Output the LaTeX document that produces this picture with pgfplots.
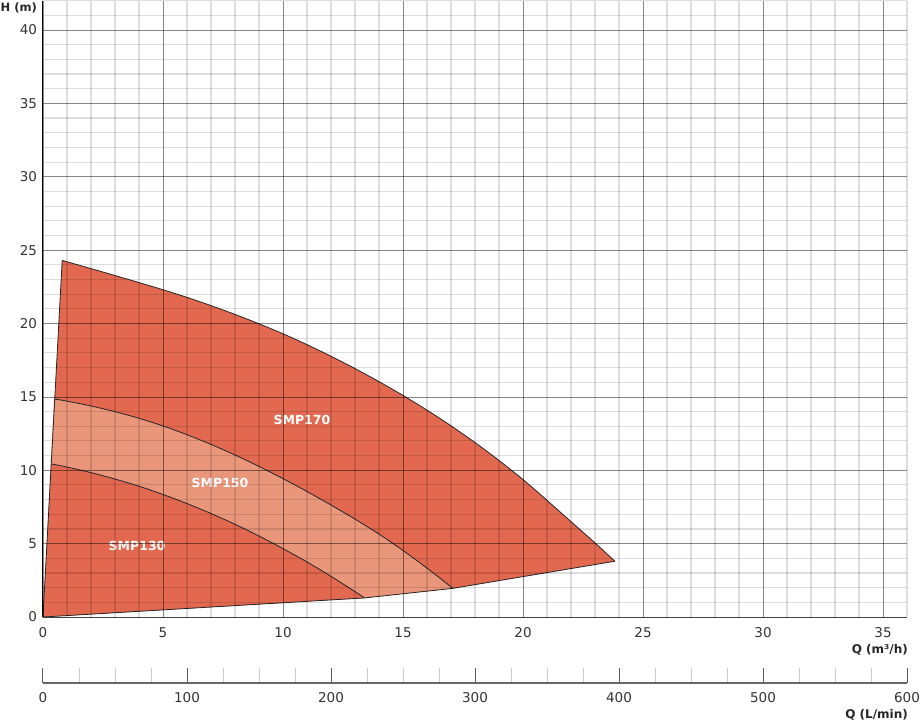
\documentclass[border=0pt]{standalone}
\usepackage{fontspec}
\setmainfont{DejaVu Sans}
\usepackage{pgfplots}
\pgfplotsset{compat=1.18}
\definecolor{darkfill}{HTML}{E2684F}
\definecolor{lightfill}{HTML}{EA967B}
\begin{document}
\begin{tikzpicture}
\useasboundingbox (-43pt,-103pt) rectangle (877pt,617pt);
\begin{axis}[
  at={(0pt,0pt)}, anchor=origin,
  scale only axis, width=864pt, height=616.35pt,
  xmin=0, xmax=36, ymin=0, ymax=42,
  axis lines=left, axis line style={-},
  x axis line style={-, black!75, line width=1pt},
  y axis line style={-, black, line width=1pt},
  xtick={0,5,...,35}, ytick={0,5,...,40},
  minor xtick={1,2,3,4,6,7,8,9,11,12,13,14,16,17,18,19,21,22,23,24,26,27,28,29,31,32,33,34,36},
  minor ytick={1,2,3,4,6,7,8,9,11,12,13,14,16,17,18,19,21,22,23,24,26,27,28,29,31,32,33,34,36,37,38,39,41,42},
  grid=both,
  major grid style={black, opacity=0.47, line width=0.7pt},
  minor grid style={black, opacity=0.13, line width=1.1pt},
  major tick length=0pt, minor tick length=0pt,
  axis on top,
  tick label style={font=\fontsize{13.5}{15}\selectfont, text=black!80},
  xticklabel style={yshift=-7pt},
  yticklabel style={xshift=-2.5pt},
  /pgf/number format/assume math mode=true,
  clip=false,
]
% fills
\addplot[fill=darkfill, draw=none] coordinates {
(0,0) (0.8,24.30) (2,23.74) (3,23.27) (4,22.79) (5,22.30) (6,21.78) (7,21.22) (8,20.62)
(9,19.98) (10,19.30) (11,18.56) (12,17.77) (13,16.93) (14,16.04) (15,15.10) (16,14.10)
(17,13.03) (18,11.89) (19,10.67) (20,9.37) (20.5,8.67) (21,7.95) (22,6.50) (23,5.05) (23.83,3.80)
(17.07,1.95) (13.4,1.3) (0,0)};
\addplot[fill=lightfill, draw=none] coordinates {
(0,0) (0.46,14.86) (1,14.71) (2,14.38) (3,13.99) (4,13.54) (5,13.02) (6,12.42) (7,11.76)
(8,11.04) (9,10.26) (10,9.43) (11,8.55) (12,7.63) (13,6.67) (14,5.65) (15,4.53) (16,3.33)
(17,2.05) (17.07,1.95) (13.4,1.3) (0,0)};
\addplot[fill=darkfill, draw=none] coordinates {
(0,0) (0.36,10.43) (1,10.22) (2,9.84) (3,9.40) (4,8.91) (5,8.35) (6,7.73) (7,7.05)
(8,6.32) (9,5.52) (10,4.66) (11,3.75) (12,2.77) (13,1.73) (13.4,1.3) (0,0)};
% outlines
\addplot[black!85, line width=0.8pt, smooth] coordinates {
(0.8,24.30) (2,23.74) (3,23.27) (4,22.79) (5,22.30) (6,21.78) (7,21.22) (8,20.62)
(9,19.98) (10,19.30) (11,18.56) (12,17.77) (13,16.93) (14,16.04) (15,15.10) (16,14.10)
(17,13.03) (18,11.89) (19,10.67) (20,9.37) (20.5,8.67) (21,7.95) (22,6.50) (23,5.05) (23.83,3.80)};
\addplot[black!85, line width=0.8pt, smooth] coordinates {
(0.46,14.86) (1,14.71) (2,14.38) (3,13.99) (4,13.54) (5,13.02) (6,12.42) (7,11.76)
(8,11.04) (9,10.26) (10,9.43) (11,8.55) (12,7.63) (13,6.67) (14,5.65) (15,4.53) (16,3.33)
(17,2.05) (17.07,1.95)};
\addplot[black!85, line width=0.8pt, smooth] coordinates {
(0.36,10.43) (1,10.22) (2,9.84) (3,9.40) (4,8.91) (5,8.35) (6,7.73) (7,7.05)
(8,6.32) (9,5.52) (10,4.66) (11,3.75) (12,2.77) (13,1.73) (13.4,1.3)};
\addplot[black!85, line width=0.8pt, line join=round] coordinates {
(0.8,24.30) (0,0) (13.4,1.3) (17.07,1.95) (23.83,3.80)};
\node[text=white, font=\bfseries\fontsize{12.5}{14}\selectfont] at (axis cs:10.79,13.42) {SMP170};
\node[text=white, font=\bfseries\fontsize{12.5}{14}\selectfont] at (axis cs:7.375,9.13) {SMP150};
\node[text=white, font=\bfseries\fontsize{12.5}{14}\selectfont] at (axis cs:3.92,4.84) {SMP130};
\node[anchor=north east, inner sep=0pt, xshift=-6pt, yshift=-2pt, text=black!85,
  font=\bfseries\fontsize{11.5}{14}\selectfont] at (rel axis cs:0,1) {H (m)};
\node[anchor=north east, inner sep=0pt, xshift=1pt, yshift=-27pt, text=black!85,
  font=\bfseries\fontsize{12}{14}\selectfont] at (rel axis cs:1,0) {Q (m³/h)};
\end{axis}
\begin{axis}[
  at={(0pt,-66pt)}, anchor=origin,
  scale only axis, width=864pt, height=10pt,
  xmin=0, xmax=600, ymin=0, ymax=1,
  axis x line=bottom, axis y line=none,
  x axis line style={-, black!60, line width=1.3pt},
  xtick={0,100,...,600}, minor xtick={25,50,75,125,150,175,225,250,275,325,350,375,425,450,475,525,550,575},
  tick align=inside, major tick length=15pt, minor tick length=15pt,
  major tick style={black!65, line width=1pt},
  minor tick style={black!20, line width=1pt},
  tick label style={font=\fontsize{13.5}{15}\selectfont, text=black!80},
  xticklabel style={yshift=-6pt},
  /pgf/number format/assume math mode=true,
  clip=false,
]
\addplot[draw=none] coordinates {(0,0)};
\node[anchor=north east, inner sep=0pt, xshift=1pt, yshift=-26pt, text=black!85,
  font=\bfseries\fontsize{12}{14}\selectfont] at (rel axis cs:1,0) {Q (L/min)};
\end{axis}
\end{tikzpicture}
\end{document}
